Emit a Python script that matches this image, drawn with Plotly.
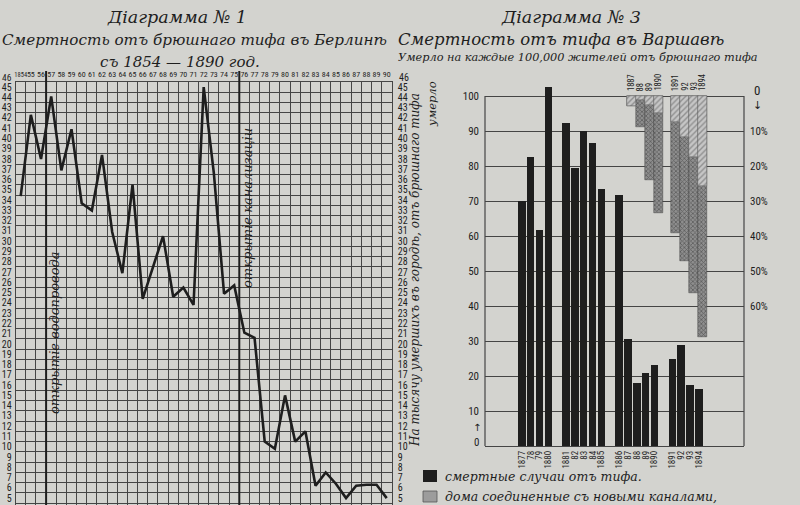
import plotly.graph_objects as go

W, H = 800, 505
def px(x): return x / W
def py(y): return 1 - y / H

# ---------------- Diagram 1 : Berlin ----------------
berlin_years = list(range(1854, 1891))
berlin_per_mille = [34.4, 42.3, 38.0, 44.1, 36.9, 40.9, 33.7, 33.0, 38.4, 30.9,
                    26.9, 35.5, 24.4, 27.5, 30.5, 24.6, 25.5, 23.8, 45.0, 36.6,
                    24.9, 25.7, 21.1, 20.6, 10.5, 9.8, 15.0, 10.5, 11.5, 6.2,
                    7.5, 6.4, 5.0, 6.2, 6.3, 6.3, 5.0]
berlin_year_labels = ["<span style='font-size:6.5px'>1854</span>", "55", "56", "57", "58",
                      "59", "60", "61", "62", "63",
                      "64", "65", "66", "67", "68", "69", "70", "71", "72", "73",
                      "74", "75", "76", "77", "78", "79", "80", "81", "82", "83",
                      "84", "85", "86", "87", "88", "89", "90"]
berlin_y_ticks = list(range(5, 46))
waterworks_year = 1856.5
sewerage_year = 1875.5

# ---------------- Diagram 3 : Warsaw ----------------
warsaw_labels = ["1877", "78", "79", "1880", "1881", "82", "83", "84", "1885",
                 "1886", "87", "88", "89", "1890", "1891", "92", "93", "1894"]
warsaw_slots = [0, 1, 2, 3, 5, 6, 7, 8, 9, 11, 12, 13, 14, 15, 17, 18, 19, 20]
warsaw_deaths = [70.0, 82.7, 61.7, 102.7, 92.4, 79.5, 90.0, 86.7, 73.4,
                 71.8, 30.6, 17.9, 20.8, 23.1, 25.0, 28.9, 17.4, 16.2]
sewer_labels = ["1887", "88", "89", "1890", "1891", "92", "93", "1894"]
sewer_slots = [12.4, 13.4, 14.4, 15.4, 17.4, 18.4, 19.4, 20.4]
sewer_light_pct = [2.9, 1.2, 2.6, 4.9, 7.3, 11.6, 17.3, 25.7]
sewer_total_pct = [2.9, 8.8, 24.0, 33.5, 39.2, 47.1, 56.4, 68.8]
warsaw_left_ticks = list(range(10, 101, 10))
warsaw_pct_ticks = [10, 20, 30, 40, 50, 60]

INK = "#1e1e1e"
GRID = "#454545"
PAPER = "#d3d3cf"
NUMFONT = "Liberation Sans Narrow, Roboto Condensed, DejaVu Sans Condensed, DejaVu Sans"
SCRIPT = "DejaVu Serif"

fig = go.Figure()

fig.add_trace(go.Scatter(x=berlin_years, y=berlin_per_mille, mode="lines",
                         line=dict(color=INK, width=2.6), xaxis="x", yaxis="y",
                         showlegend=False, hoverinfo="skip"))
fig.add_trace(go.Scatter(x=[berlin_years[0]], y=[berlin_per_mille[0]], mode="markers",
                         marker=dict(opacity=0), xaxis="x", yaxis="y2",
                         showlegend=False, hoverinfo="skip"))

fig.add_trace(go.Bar(x=warsaw_slots, y=warsaw_deaths, width=0.85,
                     marker=dict(color=INK, line=dict(width=0)),
                     xaxis="x3", yaxis="y3", showlegend=False))
fig.add_trace(go.Bar(x=sewer_slots, y=sewer_total_pct, base=0, width=1.0,
                     marker=dict(color="#7a7a7a", line=dict(width=0.5, color="#444"),
                                 pattern=dict(shape="x", fgcolor="#2e2e2e", bgcolor="#8e8e8e",
                                              size=3, solidity=0.45)),
                     xaxis="x3", yaxis="y4", showlegend=False))
fig.add_trace(go.Bar(x=sewer_slots, y=sewer_light_pct, base=0, width=1.0,
                     marker=dict(color="#c8c8c8", line=dict(width=0.5, color="#666"),
                                 pattern=dict(shape="/", fgcolor="#5a5a5a", bgcolor="#c6c6c6",
                                              size=4, solidity=0.35)),
                     xaxis="x3", yaxis="y4", showlegend=False))

minor_grid = dict(tickmode="linear", dtick=1, showgrid=True, gridcolor=GRID,
                  gridwidth=1, ticks="")

fig.update_layout(
    width=W, height=H, margin=dict(l=0, r=0, t=0, b=0, autoexpand=False),
    paper_bgcolor=PAPER, plot_bgcolor="rgba(0,0,0,0)",
    barmode="overlay", bargap=0,
    xaxis=dict(domain=[px(15.6), px(391.8)], range=[1853.5, 1890.5], side="top",
               tickmode="array", tickvals=berlin_years, ticktext=berlin_year_labels,
               tickangle=0, tickfont=dict(family=NUMFONT, size=8, color=INK),
               ticks="", showgrid=False, zeroline=False, ticklabelstandoff=1,
               minor=dict(minor_grid, tick0=0.5), automargin=False,
               showline=True, linecolor=GRID, linewidth=1, mirror=True),
    yaxis=dict(domain=[0, py(82)], range=[4.33, 45.5],
               tickmode="array", tickvals=berlin_y_ticks,
               tickfont=dict(family=NUMFONT, size=10, color=INK),
               ticks="", showgrid=False, zeroline=False, ticklabelstandoff=1,
               minor=dict(minor_grid, tick0=0.5), automargin=False,
               showline=True, linecolor=GRID, linewidth=1, mirror=True),
    yaxis2=dict(overlaying="y", side="right", range=[4.33, 45.5],
                tickmode="array", tickvals=berlin_y_ticks, automargin=False,
                tickfont=dict(family=NUMFONT, size=10, color=INK),
                ticks="", showgrid=False, zeroline=False, ticklabelstandoff=5),
    xaxis3=dict(domain=[px(485), px(744)], range=[-4.15, 25.1], anchor="y3",
                tickmode="array", tickvals=warsaw_slots, ticktext=warsaw_labels,
                tickangle=-90, tickfont=dict(family=NUMFONT, size=9, color=INK),
                ticks="", showgrid=False, zeroline=False, ticklabelstandoff=2,
                automargin=False),
    yaxis3=dict(domain=[py(446), py(82)], range=[0, 104], anchor="x3",
                tickmode="array", tickvals=warsaw_left_ticks,
                tickfont=dict(family=NUMFONT, size=11, color=INK),
                ticks="", showgrid=True, gridcolor=GRID, gridwidth=1,
                zeroline=True, zerolinecolor=GRID, zerolinewidth=1.2,
                ticklabelstandoff=5, automargin=False),
    yaxis4=dict(overlaying="y3", side="right", anchor="x3", range=[100, -4],
                tickmode="array", tickvals=warsaw_pct_ticks,
                ticktext=[f"{v}%" for v in warsaw_pct_ticks],
                tickfont=dict(family=NUMFONT, size=11, color=INK),
                ticks="", showgrid=False, zeroline=False, ticklabelstandoff=5,
                automargin=False),
)

shapes = []
for yr in (waterworks_year, sewerage_year):
    shapes.append(dict(type="line", xref="x", yref="paper", x0=yr, x1=yr,
                       y0=0, y1=py(71), line=dict(color=INK, width=2)))
for xd in (0, 1):
    shapes.append(dict(type="line", xref="x3 domain", yref="y3", x0=xd, x1=xd,
                       y0=0, y1=100, line=dict(color=GRID, width=1.2)))
# legend swatches
shapes.append(dict(type="rect", xref="paper", yref="paper", x0=px(423), x1=px(437),
                   y0=py(482), y1=py(470), fillcolor=INK, line=dict(width=0)))
shapes.append(dict(type="rect", xref="paper", yref="paper", x0=px(423), x1=px(437),
                   y0=py(502), y1=py(491), fillcolor="#9c9c9c",
                   line=dict(width=0.8, color="#555")))
fig.update_layout(shapes=shapes)

ann = []
def text(x, y, s, size, angle=0, xanchor="center", yanchor="middle", family=SCRIPT,
         style="italic", xref="paper", yref="paper", color=INK):
    ann.append(dict(x=x, y=y, xref=xref, yref=yref, text=s, showarrow=False,
                    textangle=angle, xanchor=xanchor, yanchor=yanchor,
                    font=dict(family=family, size=size, color=color, style=style)))

# titles diagram 1
text(px(177), py(17), "Діаграмма № 1", 17.5)
text(px(0), py(40), "Смертность отъ брюшнаго тифа въ Берлинѣ", 15.2, xanchor="left")
text(px(180), py(62), "съ 1854 — 1890 год.", 15)
# titles diagram 3
text(px(571), py(17), "Діаграмма № 3", 17.5)
text(px(396), py(40), "Смертность отъ тифа въ Варшавѣ", 16.5, xanchor="left")
text(px(396), py(58), "Умерло на каждые 100,000 жителей отъ брюшнаго тифа", 11.3, xanchor="left")

# corner 46 labels
text(px(7), py(77), "46", 9.5, family=NUMFONT, style="normal")
text(px(404), py(77), "46", 10, family=NUMFONT, style="normal")

# vertical notes on diagram 1
text(px(54), py(333), "открытіе водопровода", 13, angle=-90)
text(px(248), py(208), "открытіе канализаціи", 13, angle=-90)
text(px(415), py(270), "На тысячу умершихъ въ городѣ, отъ брюшнаго тифа", 12, angle=-90)
text(px(432), py(104), "умерло", 11.5, angle=-90)

# direction marks diagram 3
text(px(477), py(442), "0", 11, family=NUMFONT, style="normal")
text(px(477), py(427), "↑", 10, family="DejaVu Sans", style="normal")
text(px(757), py(91), "0", 13, family=NUMFONT, style="normal")
text(px(757), py(106), "↓", 11, family="DejaVu Sans", style="normal")

# year labels above hanging bars
for s, xs in zip(sewer_labels, sewer_slots):
    text(xs, py(93), s, 8.5, angle=-90, yanchor="bottom", family=NUMFONT,
         style="normal", xref="x3")

# legend text
text(px(443), py(476), "смертные случаи отъ тифа.", 12.5, xanchor="left")
text(px(443), py(496), "дома соединенные съ новыми каналами,", 12.5, xanchor="left")

fig.update_layout(annotations=ann)
fig.write_html("out.html", config={"displayModeBar": False},
               post_script="document.body.style.margin='0';document.body.style.overflow='hidden';")
